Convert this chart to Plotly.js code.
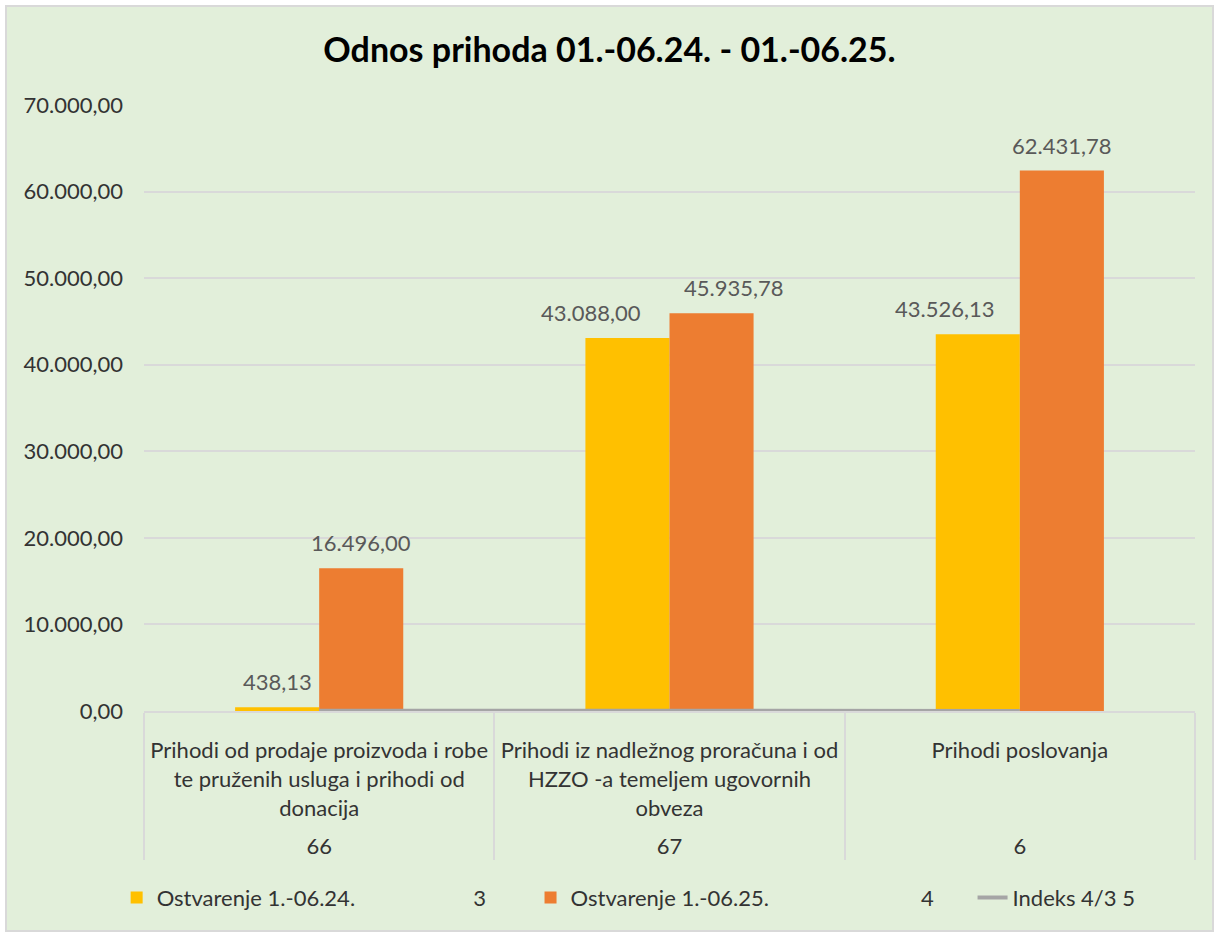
<!DOCTYPE html>
<html>
<head>
<meta charset="utf-8">
<script src="https://cdn.plot.ly/plotly-3.0.1.min.js"></script>
<style>
  body { margin: 0; background: #ffffff; }
  #grafico {
    position: absolute; left: 5px; top: 5px;
    width: 1205px; height: 923px;
    border: 2px solid #D9D9D9;
  }
</style>
</head>
<body>
<div id="grafico"></div>
<script>
// podaci
var sifre = ["66", "67", "6"];
var nazivi = [
  "Prihodi od prodaje proizvoda i robe<br>te pruženih usluga i prihodi od<br>donacija<br> ",
  "Prihodi iz nadležnog proračuna i od<br>HZZO -a temeljem ugovornih<br>obveza<br> ",
  "Prihodi poslovanja<br> <br> <br> "
];
var ostvarenje24 = [438.13, 43088.00, 43526.13];
var ostvarenje25 = [16496.00, 45935.78, 62431.78];
var indeks = [37.65, 1.07, 1.43];

var nbsp = "\u00a0";
function razmak(n) { return nbsp.repeat(n); }

var xKat = [sifre, nazivi];

var data = [
  {
    x: xKat, y: ostvarenje24, type: "bar",
    name: "Ostvarenje 1.-06.24." + razmak(21) + "3" + razmak(7),
    marker: { color: "#FFC000" }
  },
  {
    x: xKat, y: ostvarenje25, type: "bar",
    name: "Ostvarenje 1.-06.25." + razmak(27) + "4" + razmak(6),
    marker: { color: "#ED7D31" }
  },
  {
    x: xKat, y: indeks, type: "scatter", mode: "lines",
    name: "Indeks 4/3 5",
    line: { color: "#A5A5A5", width: 4 }
  }
];

// oznake vrijednosti iznad stupaca (malo razmaknute kao u Excelu)
var pomak24 = [0, -36, -33];
var pomak25 = [0, 22, 0];
var oznake = [];
function dodajOznake(vrijednosti, pomaci, odmak) {
  for (var i = 0; i < vrijednosti.length; i++) {
    oznake.push({
      x: i + odmak, y: vrijednosti[i], xref: "x", yref: "y",
      text: vrijednosti[i].toLocaleString("de-DE", { minimumFractionDigits: 2, maximumFractionDigits: 2 }),
      showarrow: false, yanchor: "bottom", yshift: 10, xshift: pomaci[i],
      font: { size: 22, color: "#595959" }
    });
  }
}
dodajOznake(ostvarenje24, pomak24, -0.12);
dodajOznake(ostvarenje25, pomak25, 0.12);

var layout = {
  title: {
    text: "<b>Odnos prihoda 01.-06.24. - 01.-06.25.</b>",
    font: { family: "Lato, sans-serif", size: 34, color: "#000000" },
    x: 0.5, xanchor: "center", y: 0.953, yanchor: "middle"
  },
  paper_bgcolor: "#E2EFDA",
  plot_bgcolor: "#E2EFDA",
  font: { family: "Lato, sans-serif", size: 22, color: "#404040" },
  separators: ",.",
  barmode: "group",
  bargap: 0.52,
  bargroupgap: 0,
  margin: { l: 137, r: 17, t: 98, b: 219 },
  annotations: oznake,
  xaxis: {
    type: "multicategory",
    automargin: false,
    showline: true, linecolor: "#D9D9D9", linewidth: 2,
    showdividers: true, dividercolor: "#D9D9D9", dividerwidth: 2,
    ticklabelstandoff: 19,
    tickfont: { size: 22, color: "#333333" },
    showgrid: false
  },
  yaxis: {
    automargin: false,
    range: [0, 70000], dtick: 10000,
    tickformat: ",.2f",
    gridcolor: "#D9D9D9", gridwidth: 2,
    zeroline: false, showline: false,
    ticks: "", ticklen: 0,
    ticklabelstandoff: 20,
    tickfont: { size: 22, color: "#333333" }
  },
  showlegend: true,
  legend: {
    orientation: "h",
    xref: "container", yref: "container",
    x: 0.091, xanchor: "left",
    y: 0.035, yanchor: "middle",
    font: { size: 22, color: "#333333" },
    bgcolor: "rgba(0,0,0,0)",
    traceorder: "normal"
  }
};

Plotly.newPlot("grafico", data, layout, { displayModeBar: false });
</script>
</body>
</html>
